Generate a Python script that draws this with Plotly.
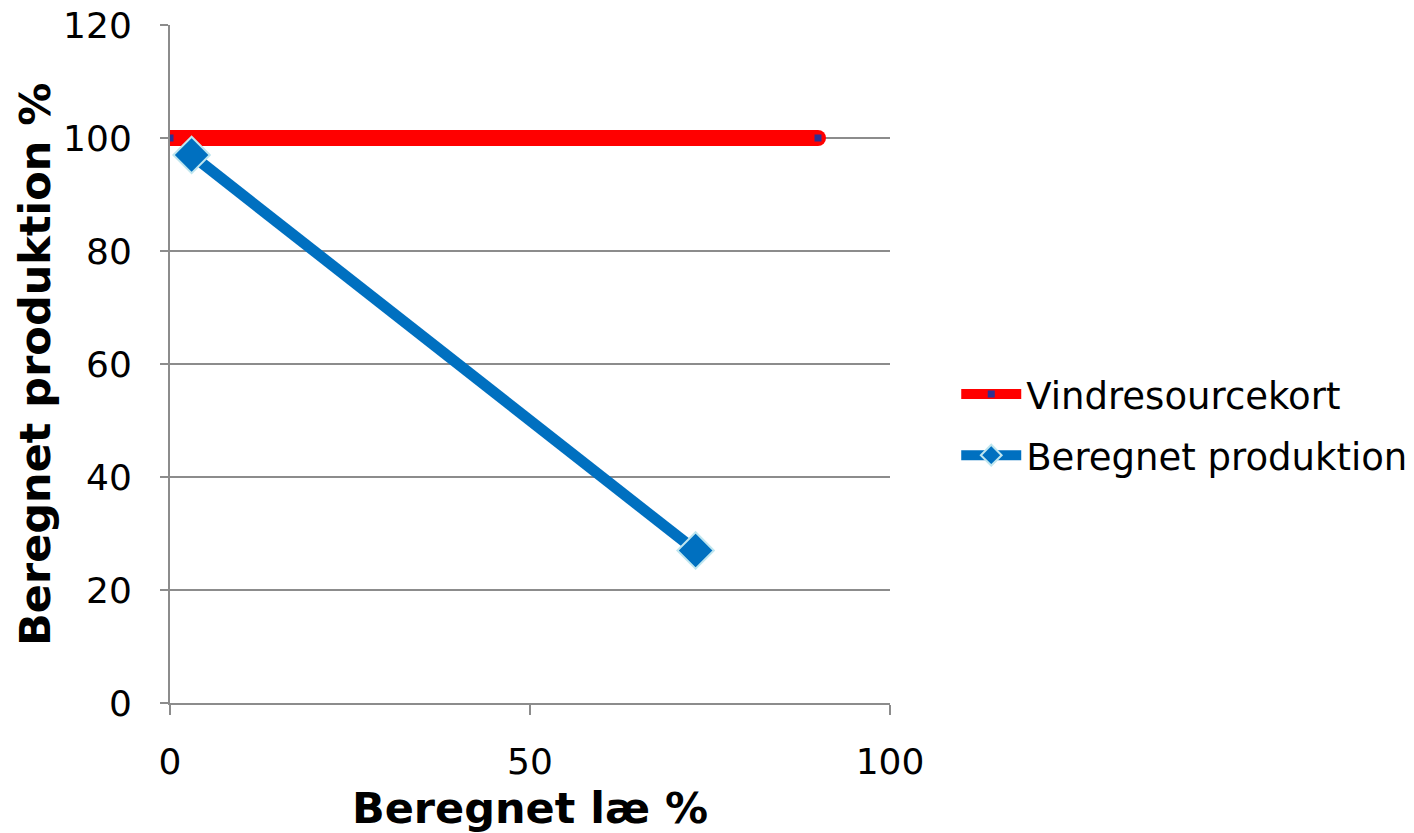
import plotly.graph_objects as go

# Series data
vind_x = [0, 90]
vind_y = [100, 100]
prod_x = [3, 73]
prod_y = [97, 27]

x_ticks = [0, 50, 100]
y_ticks = [0, 20, 40, 60, 80, 100, 120]

FONT = "DejaVu Sans"
RED = "#ff0000"
BLUE = "#0070c0"

fig = go.Figure()

# Rounded ends for the thick red line
fig.add_trace(go.Scatter(
    x=vind_x, y=vind_y, mode="markers",
    marker=dict(symbol="circle", size=16, color=RED, line=dict(width=0)),
    showlegend=False, hoverinfo="skip",
))
fig.add_trace(go.Scatter(
    x=vind_x, y=vind_y, mode="lines+markers", name="Vindresourcekort",
    line=dict(color=RED, width=16),
    marker=dict(symbol="square", size=7, color="#2e3192", line=dict(width=0)),
    legendgroup="a",
))
fig.add_trace(go.Scatter(
    x=prod_x, y=prod_y, mode="lines+markers", name="Beregnet produktion",
    line=dict(color=BLUE, width=11),
    marker=dict(symbol="diamond", size=28, color=BLUE,
                line=dict(color="#bfe6ef", width=2)),
    legendgroup="b",
))

fig.update_layout(
    width=1414, height=833,
    margin=dict(l=170, r=524, t=25, b=130, autoexpand=False),
    paper_bgcolor="white", plot_bgcolor="white",
    font=dict(family=FONT, size=36, color="black"),
    showlegend=True,
    legend=dict(
        x=1.092, y=0.41, xanchor="left", yanchor="middle",
        font=dict(family=FONT, size=37, color="black"),
        traceorder="grouped", tracegroupgap=10,
        itemwidth=60, bgcolor="rgba(0,0,0,0)",
    ),
    xaxis=dict(
        range=[0, 100], tickvals=x_ticks, ticktext=[str(v) for v in x_ticks],
        showgrid=False, zeroline=False, automargin=False,
        showline=True, linecolor="#8c8c8c", linewidth=2,
        ticks="outside", ticklen=10, tickwidth=2, tickcolor="#8c8c8c",
        tickfont=dict(family=FONT, size=36), ticklabelstandoff=16,
        title=dict(text="<b>Beregnet læ %</b>", font=dict(family=FONT, size=43), standoff=18),
    ),
    yaxis=dict(
        range=[0, 120], tickvals=y_ticks, ticktext=[str(v) for v in y_ticks],
        showgrid=True, gridcolor="#8c8c8c", gridwidth=1.5,
        zeroline=False, automargin=False,
        showline=True, linecolor="#8c8c8c", linewidth=2,
        ticks="outside", ticklen=8, tickwidth=2, tickcolor="#8c8c8c",
        tickfont=dict(family=FONT, size=36), ticklabelstandoff=21,
    ),
    annotations=[dict(
        text="<b>Beregnet produktion %</b>", textangle=-90,
        xref="paper", yref="paper", x=-0.1875, y=0.4985,
        xanchor="center", yanchor="middle", showarrow=False,
        font=dict(family=FONT, size=43, color="black"),
    )],
)

fig.write_html("out.html")
